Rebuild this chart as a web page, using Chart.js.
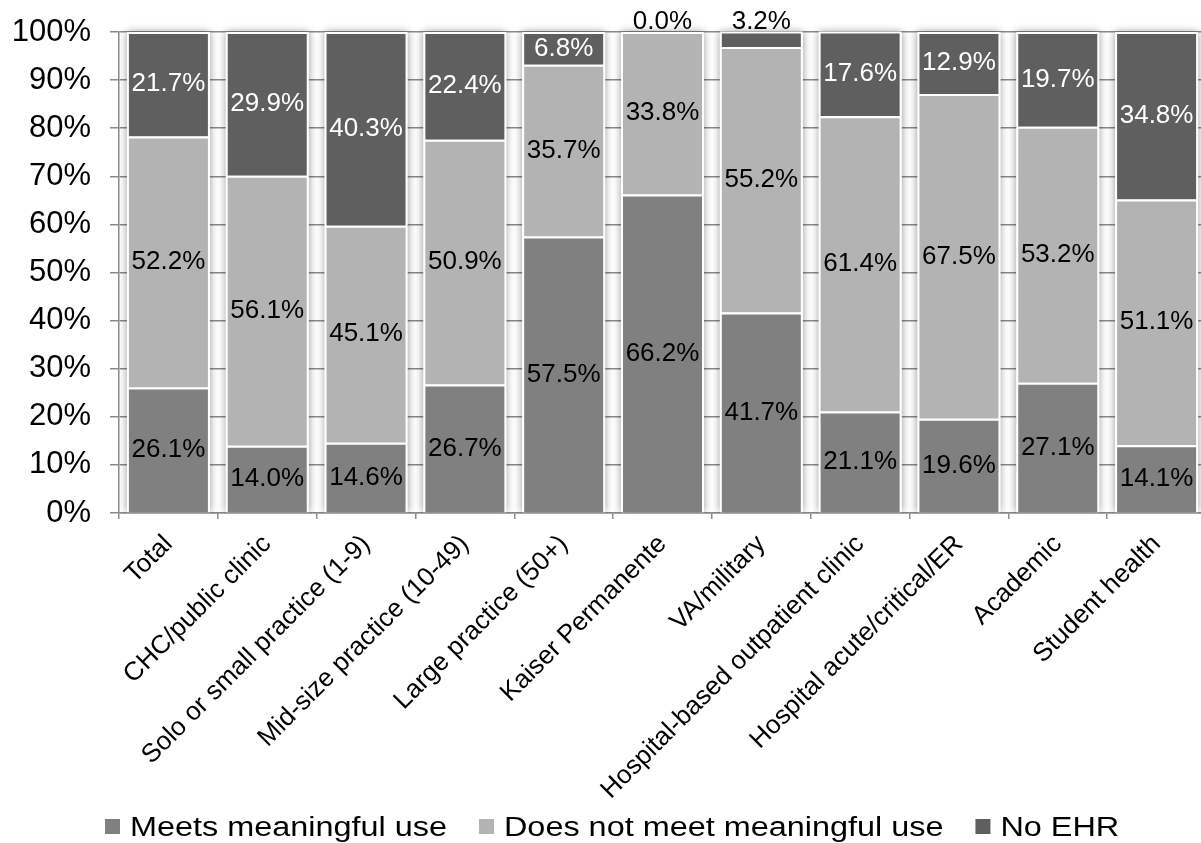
<!DOCTYPE html>
<html>
<head>
<meta charset="utf-8">
<script src="https://cdn.jsdelivr.net/npm/chart.js@4.4.1/dist/chart.umd.min.js"></script>
<style>
  html, body { margin: 0; padding: 0; background: #ffffff; overflow: hidden; width: 1201px; height: 843px; }
  canvas { display: block; }
</style>
</head>
<body>
<canvas id="ehrChart" width="1212" height="843"></canvas>
<script>
// Practice settings along the x axis
const categories = [
  'Total', 'CHC/public clinic', 'Solo or small practice (1-9)', 'Mid-size practice (10-49)',
  'Large practice (50+)', 'Kaiser Permanente', 'VA/military', 'Hospital-based outpatient clinic',
  'Hospital acute/critical/ER', 'Academic', 'Student health'
];
// Share of respondents (%) per setting, stacked bottom to top
const meetsUse    = [26.1, 14.0, 14.6, 26.7, 57.5, 66.2, 41.7, 21.1, 19.6, 27.1, 14.1];
const notMeetUse  = [52.2, 56.1, 45.1, 50.9, 35.7, 33.8, 55.2, 61.4, 67.5, 53.2, 51.1];
const noEhr       = [21.7, 29.9, 40.3, 22.4,  6.8,  0.0,  3.2, 17.6, 12.9, 19.7, 34.8];
const seriesNames = ['Meets meaningful use', 'Does not meet meaningful use', 'No EHR'];
const yTickValues = [0, 10, 20, 30, 40, 50, 60, 70, 80, 90, 100];

const FONT = '"Liberation Sans", Arial, Helvetica, sans-serif';
const fillColors = ['#808080', '#b3b3b3', '#5f5f5f'];
const labelColors = ['#000000', '#000000', '#ffffff'];

// Soft drop shadow behind each whole stacked column
const columnShadow = {
  id: 'columnShadow',
  beforeDatasetsDraw(chart) {
    const ctx = chart.ctx;
    const metas = chart.data.datasets.map((_, i) => chart.getDatasetMeta(i));
    ctx.save();
    ctx.beginPath();
    ctx.rect(chart.chartArea.left, chart.chartArea.top - 20, chart.chartArea.width, chart.chartArea.height + 20);
    ctx.clip();
    metas[0].data.forEach((bar, i) => {
      const w = bar.width;
      let top = Infinity;
      metas.forEach(m => { top = Math.min(top, m.data[i].y); });
      const bottom = bar.base;
      ctx.shadowColor = 'rgba(0,0,0,0.42)';
      ctx.shadowBlur = 8;
      ctx.shadowOffsetX = 0;
      ctx.shadowOffsetY = 0;
      ctx.fillStyle = '#ffffff';
      ctx.fillRect(bar.x - w / 2, top, w, bottom - top);
    });
    ctx.restore();
  }
};

// Percentage labels centred in every segment; tiny top segments get theirs above the column
const segmentLabels = {
  id: 'segmentLabels',
  afterDatasetsDraw(chart) {
    const ctx = chart.ctx;
    const n = chart.data.datasets.length;
    ctx.save();
    ctx.font = '26px ' + FONT;
    ctx.textAlign = 'center';
    ctx.textBaseline = 'middle';
    chart.data.datasets.forEach((ds, di) => {
      const meta = chart.getDatasetMeta(di);
      meta.data.forEach((bar, i) => {
        const v = ds.data[i];
        const text = v.toFixed(1) + '%';
        let y, color;
        if (di === n - 1 && v < 5) {
          y = Math.min(bar.y, bar.base) - 10;
          color = '#000000';
        } else {
          y = (bar.y + bar.base) / 2;
          color = labelColors[di];
        }
        ctx.fillStyle = color;
        ctx.fillText(text, bar.x, y);
      });
    });
    ctx.restore();
  }
};

// Legend row along the bottom edge
const bottomLegend = {
  id: 'bottomLegend',
  afterDraw(chart) {
    const ctx = chart.ctx;
    const stretch = 1.2;
    const box = 15, boxGap = 10, itemGap = 32;
    const baseline = 836;
    ctx.save();
    ctx.font = '27px ' + FONT;
    ctx.textBaseline = 'alphabetic';
    let x = 105;
    chart.data.datasets.forEach(d => {
      ctx.fillStyle = d.backgroundColor;
      ctx.fillRect(x, baseline - 17, box, box);
      x += box + boxGap;
      const w = ctx.measureText(d.label).width * stretch;
      ctx.save();
      ctx.translate(x, baseline);
      ctx.scale(stretch, 1);
      ctx.fillStyle = '#000000';
      ctx.fillText(d.label, 0, 0);
      ctx.restore();
      x += w + itemGap;
    });
    ctx.restore();
  }
};

const seriesValues = [meetsUse, notMeetUse, noEhr];

new Chart(document.getElementById('ehrChart'), {
  type: 'bar',
  data: {
    labels: categories,
    datasets: seriesValues.map((vals, i) => ({
      label: seriesNames[i],
      data: vals,
      backgroundColor: fillColors[i],
      borderColor: '#ffffff',
      borderWidth: 2,
      categoryPercentage: 1.0,
      barPercentage: 0.84
    }))
  },
  options: {
    responsive: false,
    animation: false,
    layout: { padding: { top: 32, right: 6, bottom: 0, left: 0 } },
    plugins: {
      legend: { display: false },
      tooltip: { enabled: false },
      title: { display: false }
    },
    scales: {
      x: {
        stacked: true,
        grid: { offset: true, drawOnChartArea: false, drawTicks: true, tickLength: 6, color: '#8a8a8a', lineWidth: 1.5 },
        border: { color: '#8a8a8a', width: 1.5 },
        ticks: {
          autoSkip: false,
          minRotation: 45,
          maxRotation: 45,
          padding: 10,
          color: '#000000',
          font: { family: FONT, size: 26 }
        },
        afterFit(scale) { scale.height = 843 - 513; }
      },
      y: {
        stacked: true,
        min: 0,
        max: 100,
        afterBuildTicks(scale) { scale.ticks = yTickValues.map(v => ({ value: v })); },
        grid: { color: '#8a8a8a', lineWidth: 1.5, drawTicks: true, tickLength: 9 },
        border: { color: '#8a8a8a', width: 1.5 },
        ticks: {
          padding: 19,
          color: '#000000',
          font: { family: FONT, size: 31, lineHeight: 0.8 },
          callback: v => v + '%'
        },
        afterFit(scale) { scale.width = 119; }
      }
    }
  },
  plugins: [columnShadow, segmentLabels, bottomLegend]
});
</script>
</body>
</html>
